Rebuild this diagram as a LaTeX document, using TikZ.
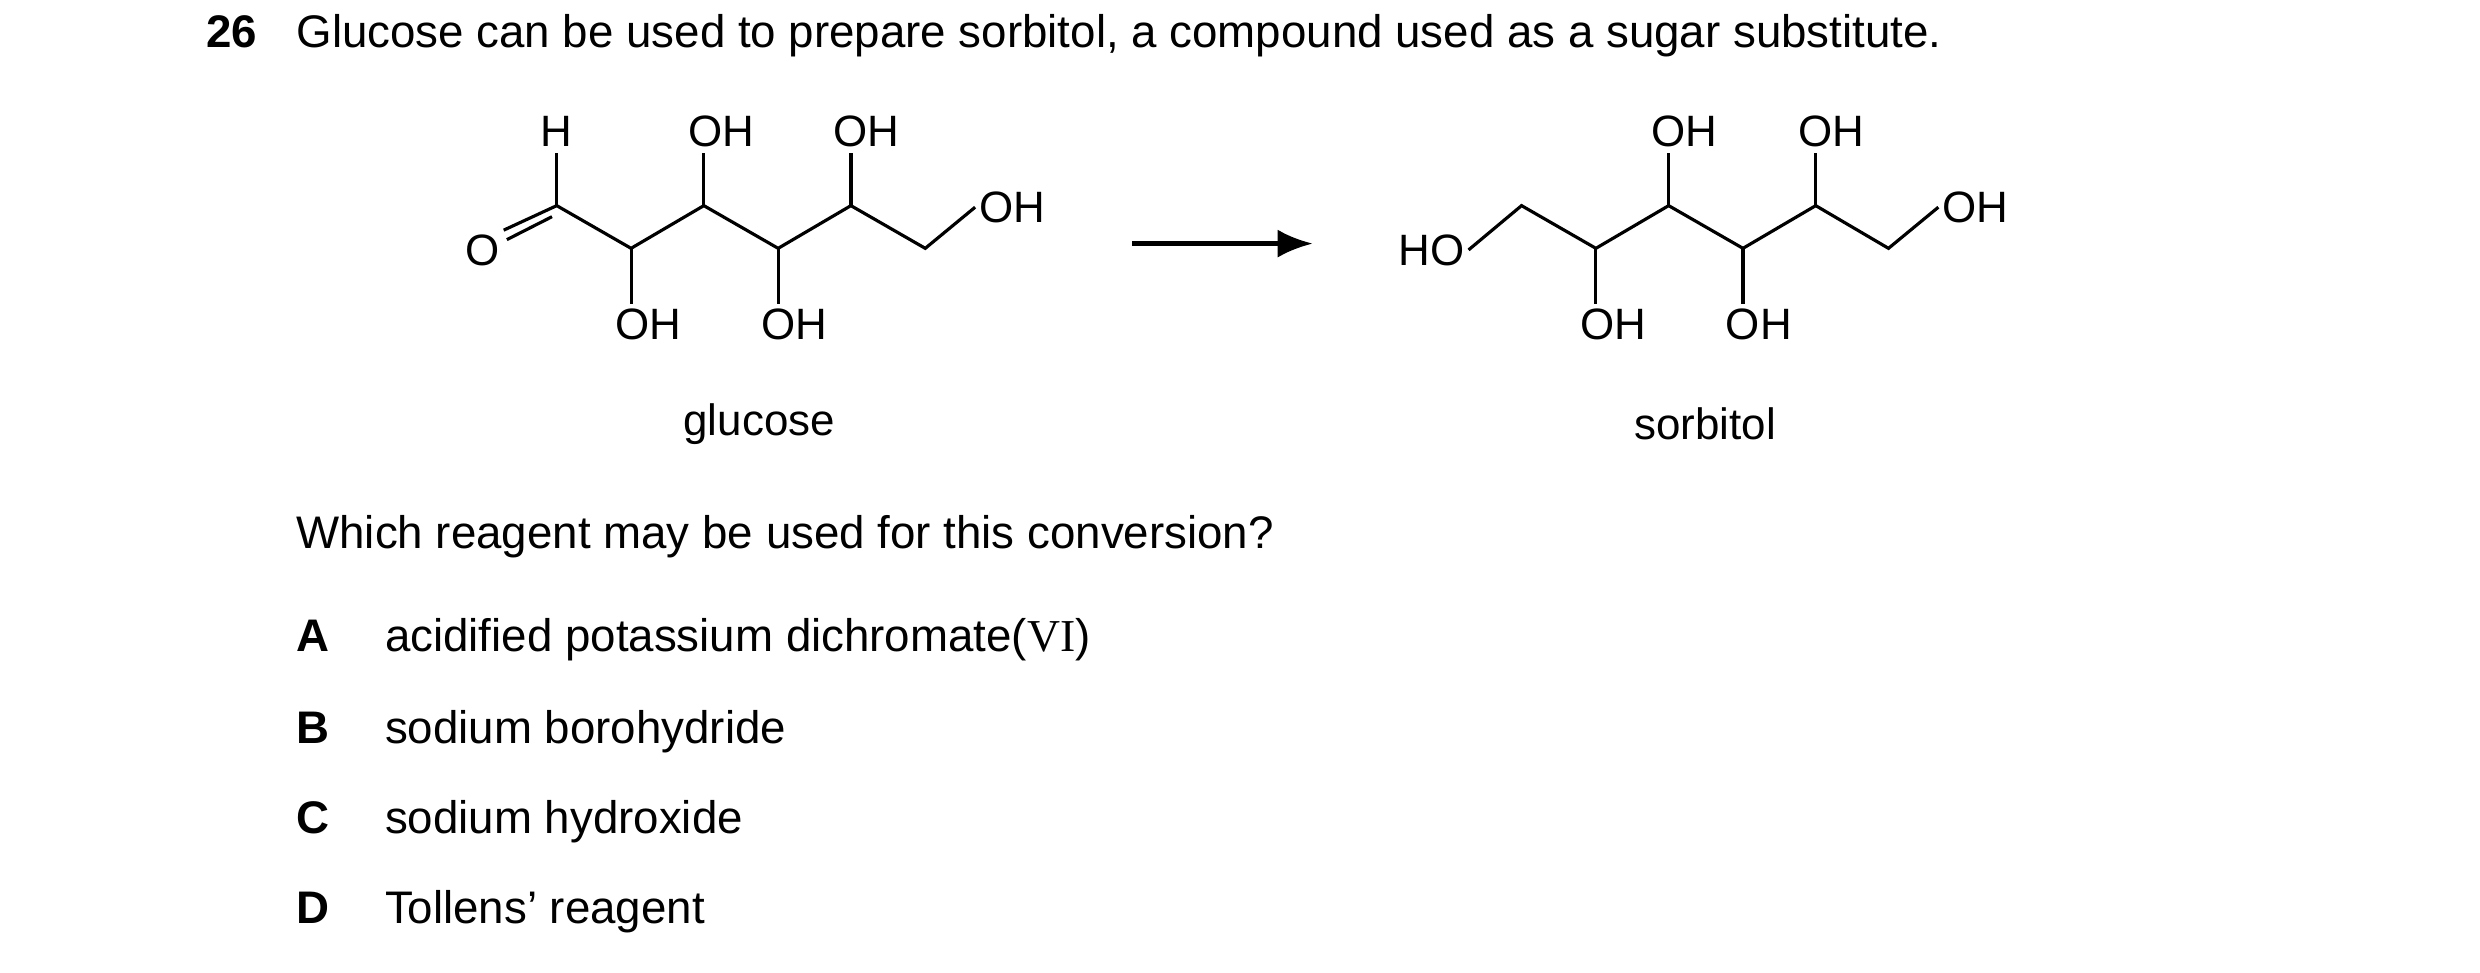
\documentclass[tikz,border=0pt]{standalone}
\usepackage{fontspec}
\setmainfont{Liberation Sans}
\newfontfamily\tnr{Liberation Serif}
\usetikzlibrary{calc,arrows.meta}
\begin{document}
\begin{tikzpicture}[x=0.01582cm,y=-0.01582cm,
  bond/.style={line width=0.9pt},
  lab/.style={font=\fontsize{12.5}{14}\selectfont, inner sep=1pt},
  txt/.style={font=\fontsize{13}{15}\selectfont, anchor=base west, inner sep=0pt},
  let/.style={font=\fontsize{13}{15}\selectfont\bfseries, anchor=base west, inner sep=0pt}]
\useasboundingbox (0,0) rectangle (1568,615);
% header
\node[let] (n) at (130,30) {26};
\node[txt] (t) at (187,30) {Glucose can be used to prepare sorbitol, a compound used as a sugar substitute.};
% glucose
\coordinate (g1) at (352,130); \coordinate (g2) at (399,157); \coordinate (g3) at (445,130);
\coordinate (g4) at (492,157); \coordinate (g5) at (538,130); \coordinate (g6) at (585,157);
\node[lab] (gH) at (352,83) {H};
\node[lab] (gO) at (305,158) {O};
\node[lab] (gu3) at (456,83) {OH};
\node[lab] (gu5) at (548,83) {OH};
\node[lab] (gd2) at (410,205) {OH};
\node[lab] (gd4) at (502,205) {OH};
\node[lab] (g7) at (640,131) {OH};
\draw[bond] (g1)--(g2)--(g3)--(g4)--(g5)--(g6)--(g7.west);
\draw[bond] (g1)--(352,97);
\draw[bond] (g1)--(gO.north east);
\draw[bond] ($(g1)+(-3,7)$)--($(gO.north east)+(2,6)$);
\draw[bond] (g3)--(445,97); \draw[bond] (g5)--(538,97);
\draw[bond] (g2)--(399,192); \draw[bond] (g4)--(492,192);
\node[lab] (gl) at (480,268) {glucose};
% arrow
\coordinate (a1) at (716,154); \coordinate (a2) at (830,154);
\draw[line width=1.3pt,-{Latex[length=10pt,width=8pt]}] (a1)--(a2);
% sorbitol
\node[lab] (s0) at (905,158) {HO};
\coordinate (s1) at (962,130); \coordinate (s2) at (1009,157); \coordinate (s3) at (1055,130);
\coordinate (s4) at (1102,157); \coordinate (s5) at (1148,130); \coordinate (s6) at (1194,157);
\node[lab] (s7) at (1249,131) {OH};
\node[lab] (su3) at (1065,83) {OH};
\node[lab] (su5) at (1158,83) {OH};
\node[lab] (sd2) at (1020,205) {OH};
\node[lab] (sd4) at (1112,205) {OH};
\draw[bond] (s0.east)--(s1)--(s2)--(s3)--(s4)--(s5)--(s6)--(s7.west);
\draw[bond] (s3)--(1055,97); \draw[bond] (s5)--(1148,97);
\draw[bond] (s2)--(1009,192); \draw[bond] (s4)--(1102,192);
\node[lab] (sl) at (1078,268) {sorbitol};
% question
\node[txt] (q) at (187,347) {Which reagent may be used for this conversion?};
\node[let] (A) at (187,412) {A}; \node[txt] (At) at (243,412) {acidified potassium dichromate({\tnr VI})};
\node[let] (B) at (187,470) {B}; \node[txt] (Bt) at (243,470) {sodium borohydride};
\node[let] (C) at (187,527) {C}; \node[txt] (Ct) at (243,527) {sodium hydroxide};
\node[let] (D) at (187,584) {D}; \node[txt] (Dt) at (243,584) {Tollens’ reagent};
\end{tikzpicture}
\end{document}
